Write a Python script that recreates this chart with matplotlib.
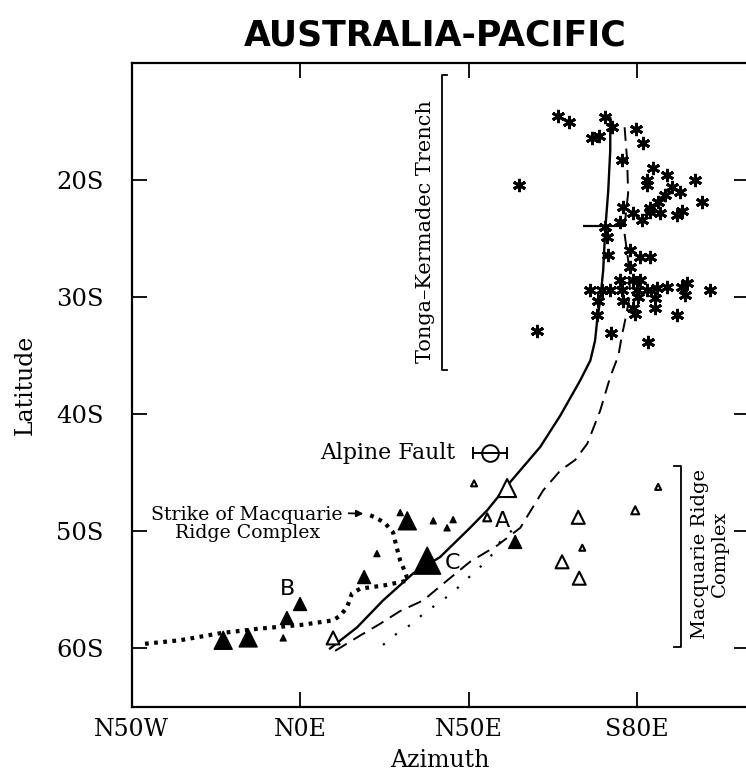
import matplotlib
matplotlib.use("Agg")
import matplotlib.pyplot as plt

# ---------------- data ----------------
x_tick_values = [-50, 0, 50, 100]
x_tick_labels = ["N50W", "N0E", "N50E", "S80E"]
y_tick_values = [-20, -30, -40, -50, -60]
y_tick_labels = ["20S", "30S", "40S", "50S", "60S"]

solid_az = [8.9, 16.9, 24.6, 33.5, 41.5, 50.4, 55.5, 61.4, 71.2, 77.2, 83.1, 86.1,
            87.5, 88.1, 89.0, 89.9, 90.5, 91.4, 92.0, 92.0]
solid_lat = [-60.0, -58.2, -55.9, -53.6, -52.2, -49.7, -48.2, -46.1, -42.8, -40.1, -37.1, -35.4,
             -33.7, -32.0, -30.3, -27.7, -24.3, -20.9, -17.4, -14.7]

dash_az = [10.4, 17.8, 23.7, 29.7, 36.5, 43.6, 50.4, 58.5, 65.3, 72.1, 77.2, 81.6,
           85.2, 89.0, 92.0, 94.4, 95.5, 96.4, 97.9, 97.3, 96.1, 97.3, 97.0, 96.1]
dash_lat = [-60.2, -58.9, -57.9, -56.8, -55.9, -54.2, -52.6, -51.2, -49.7, -46.5, -44.8, -43.9,
            -42.5, -39.7, -36.8, -35.0, -33.2, -32.0, -29.7, -26.8, -24.3, -21.1, -18.3, -14.9]

dot_az = [24.6, 28.8, 33.2, 37.1, 40.7, 45.4, 49.0, 52.5, 56.4, 59.3, 62.9]
dot_lat = [-59.7, -58.7, -57.9, -56.9, -56.2, -55.2, -54.2, -53.3, -52.2, -50.9, -49.9]

strike_az = [-46.0, -35.6, -23.7, -11.9, 0.0, 9.8, 11.9, 13.9, 15.4, 17.8, 25.2, 32.0,
             31.2, 29.7, 28.5, 27.6, 25.2, 22.3, 19.6]
strike_lat = [-59.6, -59.3, -58.7, -58.3, -58.0, -57.6, -57.2, -56.5, -55.3, -54.9, -54.6, -54.2,
              -53.5, -52.5, -51.2, -50.1, -49.3, -48.8, -48.5]

open_az = [61.4, 51.6, 55.5, 82.5, 83.7, 77.7, 82.8, 99.4, 106.2, 9.8]
open_lat = [-46.3, -45.9, -48.8, -48.8, -51.4, -52.6, -54.0, -48.2, -46.2, -59.1]
open_mag = [4, 1, 2, 3, 1, 3, 3, 2, 1, 3]

fill_az = [37.7, 31.8, 29.7, 22.8, 19.0, 39.5, 43.6, 45.4, 0.0, -3.9, -5.0, -15.4, -22.8, 63.8]
fill_lat = [-52.5, -49.1, -48.4, -51.9, -53.9, -49.1, -49.7, -49.0, -56.2, -57.4, -59.1, -59.1, -59.3, -50.9]
fill_mag = [5, 4, 1, 1, 3, 1, 1, 1, 3, 3, 1, 4, 4, 3]

star_az = [76.6, 79.8, 65.0, 90.5, 92.6, 86.6, 88.7, 99.7, 101.8, 95.5, 104.7, 103.0, 103.0,
           108.9, 117.2, 119.3, 110.4, 112.8, 108.3, 106.2, 103.9, 95.8, 98.8, 101.5, 103.9,
           106.8, 111.9, 113.4, 90.5, 95.0, 91.1, 91.4, 97.9, 100.9, 103.9, 97.9, 98.8, 95.0,
           100.9, 86.1, 89.6, 92.0, 95.5, 100.0, 103.0, 105.9, 108.9, 113.4, 114.8, 121.7,
           88.4, 95.8, 100.3, 105.3, 105.3, 98.8, 99.4, 88.1, 114.2, 111.9, 70.3, 92.3, 103.3]
star_lat = [-14.5, -15.0, -20.4, -14.6, -15.5, -16.4, -16.2, -15.6, -16.8, -18.3, -19.0, -20.0, -20.4,
            -19.6, -20.0, -21.9, -20.6, -21.0, -21.3, -21.9, -22.4, -22.3, -22.8, -23.4, -22.7,
            -22.8, -23.0, -22.6, -24.0, -23.6, -24.9, -26.4, -26.0, -26.6, -26.6, -27.4, -28.5, -28.5,
            -28.5, -29.4, -29.4, -29.4, -29.4, -29.4, -29.4, -29.2, -29.1, -29.1, -28.8, -29.4,
            -30.3, -30.3, -30.0, -30.1, -30.9, -30.9, -31.4, -31.5, -29.8, -31.5, -32.9, -33.1, -33.8]

alpine_az, alpine_lat, alpine_err = 56.4, -43.3, 5.0
bar_az, bar_lat, bar_err = 90.0, -23.9, 6.0

# ---------------- figure ----------------
fig = plt.figure(figsize=(7.46, 7.75), dpi=100)
ax = fig.add_axes([131.5 / 746, 1 - 707 / 775, (748.5 - 131.5) / 746, (707 - 63) / 775])
ax.set_xlim(-50, 133)
ax.set_ylim(-65, -10)

serif = "DejaVu Serif"

ax.plot(solid_az, solid_lat, color="black", lw=1.7, zorder=3)
ax.plot(dash_az, dash_lat, color="black", lw=1.4, dashes=(7, 4), zorder=3)
ax.plot(dot_az, dot_lat, color="black", lw=1.6, dashes=(1, 6), zorder=3)
ax.plot(strike_az, strike_lat, color="black", lw=3.0, dashes=(0.9, 1.3), zorder=3)

size_px = {1: 6, 2: 8, 3: 13, 4: 18, 5: 27}
def msize(m):
    return (size_px[m] * 72 / 100) ** 2

ax.scatter(open_az, open_lat, s=[msize(m) for m in open_mag], marker="^",
           facecolor="white", edgecolor="black", linewidths=1.5, zorder=4)
ax.scatter(fill_az, fill_lat, s=[msize(m) for m in fill_mag], marker="^",
           facecolor="black", edgecolor="black", linewidths=1.0, zorder=4)

ax.plot(star_az, star_lat, linestyle="none", marker=(6, 2, 0), markersize=9.5,
        markeredgewidth=2.1, color="black", zorder=5)

ax.errorbar([alpine_az], [alpine_lat], xerr=[alpine_err], fmt="o", mfc="none", mec="black",
            ms=12, mew=1.4, ecolor="black", elinewidth=1.4, capsize=4, capthick=1.4, zorder=5)
ax.errorbar([bar_az], [bar_lat], xerr=[bar_err], fmt="none", ecolor="black",
            elinewidth=1.6, capsize=0, zorder=5)

# annotations
ax.text(alpine_az - 10.3, alpine_lat, "Alpine Fault", family=serif, fontsize=15.8,
        ha="right", va="center")
ax.text(-15.7, -49.4, "Strike of Macquarie\nRidge Complex", family=serif, fontsize=13.6,
        ha="center", va="center", linespacing=1.0, multialignment="center")
ax.annotate("", xy=(19.6, -48.5), xytext=(13.6, -48.45),
            arrowprops=dict(arrowstyle="-|>", color="black", lw=1.3, mutation_scale=10))

ax.text(59.9, -49.1, "A", fontsize=16, ha="center", va="center", family="DejaVu Sans")
ax.text(45.1, -52.7, "C", fontsize=16, ha="center", va="center", family="DejaVu Sans")
ax.text(-3.6, -54.9, "B", fontsize=16, ha="center", va="center", family="DejaVu Sans")

# Tonga-Kermadec bracket
ax.plot([43.6, 42.1, 42.1, 43.6], [-11.0, -11.0, -36.2, -36.2], color="black", lw=1.3)
ax.text(37.1, -24.4, "Tonga\u2013Kermadec Trench", family=serif, fontsize=15,
        rotation=90, ha="center", va="center")

# Macquarie Ridge bracket
ax.plot([110.8, 113.1, 113.1, 110.8], [-44.4, -44.4, -59.9, -59.9], color="black", lw=1.3)
ax.text(121.6, -51.9, "Macquarie Ridge\nComplex", family=serif, fontsize=14,
        rotation=90, ha="center", va="center", linespacing=1.15, multialignment="center")

# axes styling
ax.set_xticks(x_tick_values)
ax.set_xticklabels(x_tick_labels, family=serif, fontsize=17)
ax.set_yticks(y_tick_values)
ax.set_yticklabels(y_tick_labels, family=serif, fontsize=17.5)
ax.tick_params(direction="in", length=11, width=1.3, top=True, right=True)
ax.tick_params(axis="x", pad=8)
ax.tick_params(axis="y", pad=20)
for sp in ax.spines.values():
    sp.set_linewidth(1.6)

ax.set_xlabel("Azimuth", family=serif, fontsize=17, labelpad=6)
ax.set_ylabel("Latitude", family=serif, fontsize=17, labelpad=14)

fig.text(435 / 746, 1 - 35 / 775, "AUSTRALIA-PACIFIC", family="DejaVu Sans",
         fontweight="bold", fontsize=25, ha="center", va="center")

fig.savefig("out.png", dpi=100)
